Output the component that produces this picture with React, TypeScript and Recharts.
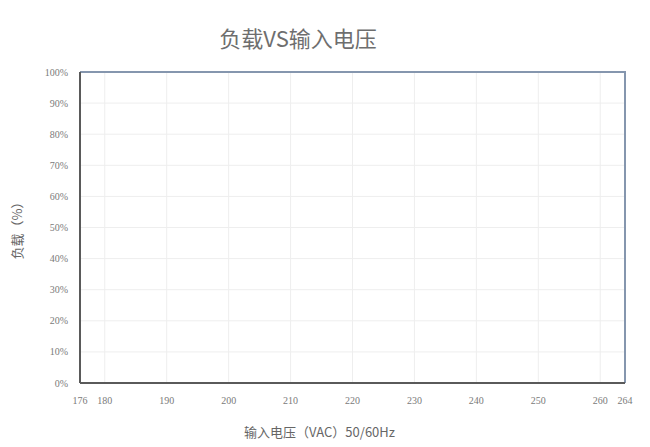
import React from 'react';
import { LineChart, Line, XAxis, YAxis, CartesianGrid, Label } from 'recharts';

const chartTitle = '负载VS输入电压';
const xTitle = '输入电压（VAC）50/60Hz';
const yTitle = '负载（%）';

// input voltage (VAC) and load (%) of the derating curve
const voltage = [176, 264, 264];
const load = [100, 100, 0];

const xTicks = [176, 180, 190, 200, 210, 220, 230, 240, 250, 260, 264];
const yTicks = [0, 10, 20, 30, 40, 50, 60, 70, 80, 90, 100];

const data = voltage.map((v, i) => ({ voltage: v, load: load[i] }));

const tickStyle = { fontFamily: '"Liberation Serif", serif', fontSize: 10, fill: '#7a7a7a' };
const cjk = '"Noto Sans CJK SC", "Noto Sans", sans-serif';

export default function App() {
  return (
    <div style={{ position: 'relative', width: 650, height: 447, background: '#fff' }}>
      <style>{'body{margin:0}'}</style>
      <div
        style={{
          position: 'absolute',
          left: 0,
          width: 596,
          top: 22,
          textAlign: 'center',
          fontFamily: cjk,
          fontSize: 22,
          color: '#6e6e6e',
          lineHeight: '30px',
        }}
      >
        {chartTitle}
      </div>
      <LineChart width={650} height={447} data={data} margin={{ top: 72, right: 25, bottom: 4, left: 0 }}>
        <CartesianGrid stroke="#eeeeee" strokeWidth={1} />
        <XAxis
          dataKey="voltage"
          type="number"
          domain={[176, 264]}
          ticks={xTicks}
          interval={0}
          height={60}
          stroke="#5a5a5a"
          strokeWidth={2}
          tickLine={false}
          tickSize={6}
          tickMargin={8}
          tick={tickStyle}
        >
          <Label
            value={xTitle}
            position="insideBottom"
            offset={6}
            dx={-33}
            style={{ fontFamily: cjk, fontSize: 13, fill: '#666' }}
          />
        </XAxis>
        <YAxis
          type="number"
          domain={[0, 100]}
          ticks={yTicks}
          interval={0}
          width={80}
          stroke="#5a5a5a"
          strokeWidth={2}
          tickLine={false}
          tickSize={6}
          tickMargin={6}
          tick={tickStyle}
          tickFormatter={(v) => `${v}%`}
        >
          <Label
            value={yTitle}
            angle={-90}
            position="insideLeft"
            offset={17}
            style={{ fontFamily: cjk, fontSize: 13, fill: '#666', textAnchor: 'middle' }}
          />
        </YAxis>
        <Line
          type="linear"
          dataKey="load"
          stroke="#8596ae"
          strokeWidth={2}
          dot={false}
          isAnimationActive={false}
        />
      </LineChart>
    </div>
  );
}
